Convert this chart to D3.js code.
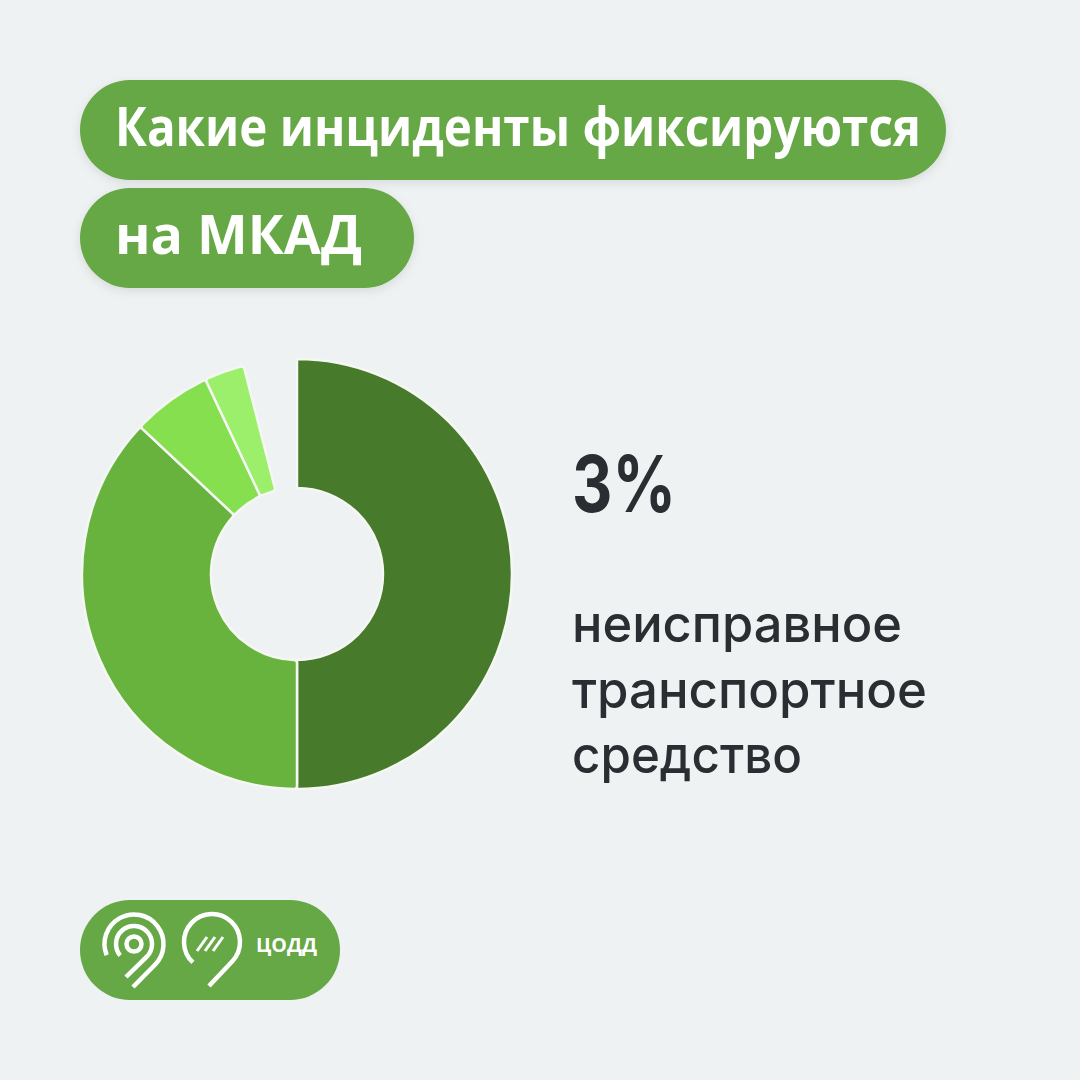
<!DOCTYPE html>
<html><head><meta charset="utf-8">
<script src="https://cdn.jsdelivr.net/npm/d3@7"></script>
<style>html,body{margin:0;padding:0;background:#eff2f3;}svg{display:block;}</style>
</head><body>
<svg id="c" width="1080" height="1080"></svg>
<script>
// ---- data ----
const categories = ["категория A", "категория B", "категория C", "неисправное транспортное средство"];
const values = [50, 37, 6, 3];
const total = 100;
const colors = ["#477a2b", "#68b33e", "#85df4f", "#9cef6b"];
const titleLines = ["Какие инциденты фиксируются", "на МКАД"];
const highlightValue = "3%";
const highlightLabel = ["неисправное", "транспортное", "средство"];

const svg = d3.select("#c");
svg.append("rect").attr("width",1080).attr("height",1080).attr("fill","#eff2f3");

const defs = svg.append("defs");
const f = defs.append("filter").attr("id","sh").attr("x","-10%").attr("y","-20%").attr("width","120%").attr("height","150%");
f.append("feDropShadow").attr("dx",0).attr("dy",3).attr("stdDeviation",5).attr("flood-color","#000").attr("flood-opacity",0.10);

// ---- title pills ----
const pills = [
  {x:80, y:80, w:866, h:100, tx:115, ty:146, tl:806},
  {x:80, y:188, w:334, h:100, tx:115, ty:254, tl:247}
];
pills.forEach((p,i)=>{
  svg.append("rect").attr("x",p.x).attr("y",p.y).attr("width",p.w).attr("height",p.h)
    .attr("rx",50).attr("fill","#65a845").attr("filter","url(#sh)");
  svg.append("text").attr("x",p.tx).attr("y",p.ty).text(titleLines[i])
    .attr("font-family","'Open Sans', sans-serif").attr("font-weight",700).attr("font-size",53)
    .attr("fill","#fff").attr("textLength",p.tl).attr("lengthAdjust","spacingAndGlyphs");
});

// ---- donut ----
const cx = 297, cy = 574, rOut = 215, rIn = 86;
const pie = d3.pie().sort(null).startAngle(0).endAngle(2*Math.PI*d3.sum(values)/total);
const arc = d3.arc().innerRadius(rIn).outerRadius(rOut).cornerRadius(3);
const g = svg.append("g").attr("transform",`translate(${cx},${cy})`);
g.selectAll("path").data(pie(values)).join("path")
  .attr("d",arc).attr("fill",(d,i)=>colors[i])
  .attr("stroke","#f4f7f2").attr("stroke-width",2.5).attr("stroke-linejoin","round");

// ---- right text ----
svg.append("text").attr("x",572).attr("y",512).text(highlightValue)
  .attr("font-family","Inter, 'Open Sans', sans-serif").attr("font-weight",700).attr("font-size",78)
  .attr("fill","#2a2d31").attr("textLength",104).attr("lengthAdjust","spacingAndGlyphs");
const lens = [330, 355, 230];
highlightLabel.forEach((t,i)=>{
  svg.append("text").attr("x",572).attr("y",642+i*65.5).text(t)
    .attr("font-family","Inter, 'Open Sans', sans-serif").attr("font-weight",500).attr("font-size",52)
    .attr("fill","#2a2d31").attr("textLength",lens[i]).attr("lengthAdjust","spacingAndGlyphs");
});

// ---- logo ----
svg.append("rect").attr("x",80).attr("y",900).attr("width",260).attr("height",100).attr("rx",50).attr("fill","#65a845");
const lg = svg.append("g").attr("fill","none").attr("stroke","#fff").attr("stroke-width",4.5).attr("stroke-linecap","butt");
function pin(c, r, a0deg, tip){
  const dx = tip[0]-c[0], dy = tip[1]-c[1], d = Math.hypot(dx,dy);
  const base = Math.atan2(dy,dx), off = Math.acos(Math.min(1,r/d));
  const at = base - off; // right-side tangent
  const a0 = a0deg*Math.PI/180;
  const s = [c[0]+r*Math.cos(a0), c[1]+r*Math.sin(a0)];
  const p = [c[0]+r*Math.cos(at), c[1]+r*Math.sin(at)];
  return `M${s[0]},${s[1]} A${r},${r} 0 1 1 ${p[0]},${p[1]} L${tip[0]},${tip[1]}`;
}
lg.append("circle").attr("cx",134).attr("cy",944).attr("r",7.5);
lg.append("path").attr("d",pin([134,944],18,140,[126,977]));
lg.append("path").attr("d",pin([134,944],29.5,158,[133,987]));
lg.append("path").attr("d",pin([212,942],28,133,[209,986]));
[0,8,16].forEach(o=>{
  lg.append("line").attr("x1",197+o).attr("y1",951).attr("x2",207+o).attr("y2",937).attr("stroke-width",3);
});
svg.append("text").attr("x",256).attr("y",952).text("ЦОДД")
  .attr("font-family","'Open Sans', sans-serif").attr("font-weight",700).attr("font-size",19)
  .attr("fill","#fff").attr("textLength",61).attr("lengthAdjust","spacingAndGlyphs");
</script>
</body></html>
